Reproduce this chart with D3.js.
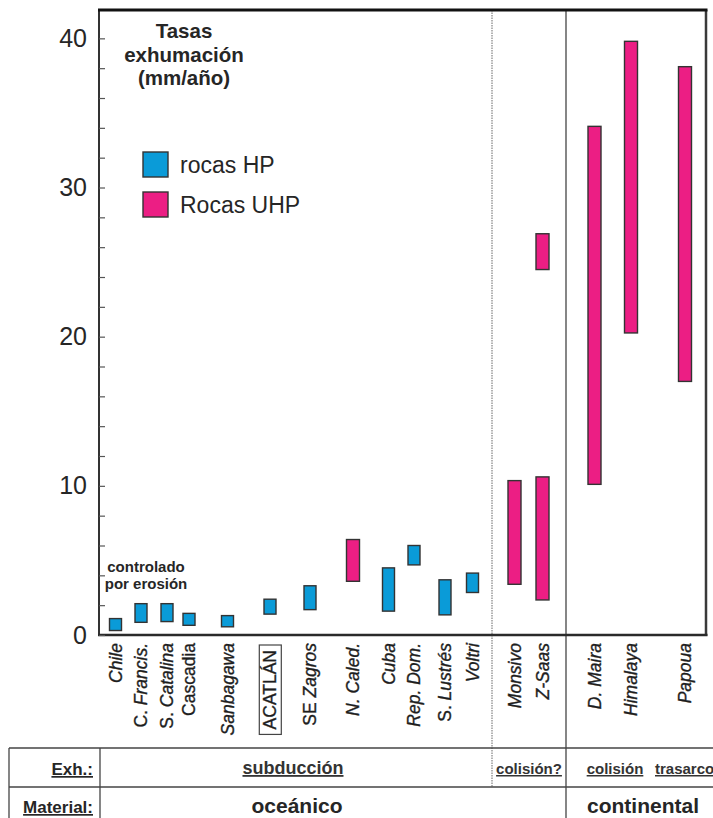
<!DOCTYPE html>
<html>
<head>
<meta charset="utf-8">
<script src="https://cdn.jsdelivr.net/npm/d3@7"></script>
<style>
  html, body { margin: 0; padding: 0; background: #fff; }
  svg { display: block; font-family: "Liberation Sans", Arial, sans-serif; }
</style>
</head>
<body>
<svg id="chart" width="713" height="818"></svg>
<script>
// Localities, in plotting order
const sites = ["Chile", "C. Francis.", "S. Catalina", "Cascadia", "Sanbagawa", "ACATLÁN",
  "SE Zagros", "N. Caled.", "Cuba", "Rep. Dom.", "S. Lustrés", "Voltri",
  "Monsivo", "Z-Saas", "D. Maira", "Himalaya", "Papoua"];

// Exhumation-rate ranges (mm/año): one entry per bar
const barSite = ["Chile", "C. Francis.", "S. Catalina", "Cascadia", "Sanbagawa", "ACATLÁN",
  "SE Zagros", "N. Caled.", "Cuba", "Rep. Dom.", "S. Lustrés", "Voltri",
  "Monsivo", "Z-Saas", "Z-Saas", "D. Maira", "Himalaya", "Papoua"];
const barType = ["HP", "HP", "HP", "HP", "HP", "HP",
  "HP", "UHP", "HP", "HP", "HP", "HP",
  "UHP", "UHP", "UHP", "UHP", "UHP", "UHP"];
const barLow  = [0.3, 0.85, 0.9, 0.65, 0.55, 1.4, 1.7, 3.6, 1.6, 4.7, 1.35, 2.85, 3.4, 2.35, 24.5, 10.1, 20.25, 17.0];
const barHigh = [1.1, 2.1, 2.1, 1.45, 1.3, 2.4, 3.3, 6.4, 4.5, 6.0, 3.7, 4.15, 10.35, 10.6, 26.9, 34.1, 39.8, 38.1];

// Y-axis ticks
const yTicks = d3.range(0, 42, 2);
const yTickLabels = [0, 10, 20, 30, 40];

// Legend entries
const legendKeys = ["HP", "UHP"];
const legendLabels = ["rocas HP", "Rocas UHP"];

// Table rows beneath the chart
const exhTexts = ["subducción", "colisión?", "colisión", "trasarco"];
const materialTexts = ["oceánico", "continental"];

// ---------------------------------------------------------------------------
const svg = d3.select("#chart");
const ink = "#262626";
const colors = d3.scaleOrdinal(legendKeys, ["#0a9bd8", "#ec1e84"]);

const frame = { left: 99, right: 706, top: 10, bottom: 635 };

const y = d3.scaleLinear().domain([0, 41.9]).range([frame.bottom, frame.top]);

// Sites are spaced by geological grouping, not evenly
const x = d3.scaleOrdinal(sites,
  [115.5, 141, 167, 189, 227.5, 270, 310, 353, 388.5, 414, 445, 472.5, 514.5, 542.5, 594.5, 631, 685]);

const bars = barSite.map((s, i) => ({ site: s, type: barType[i], lo: barLow[i], hi: barHigh[i] }));

// group separators
svg.append("line").attr("x1", 492).attr("x2", 492).attr("y1", frame.top).attr("y2", 787)
  .attr("stroke", "#9a9a9a").attr("stroke-width", 1.5).attr("stroke-dasharray", "1.5,1");
svg.append("line").attr("x1", 566).attr("x2", 566).attr("y1", frame.top).attr("y2", 818)
  .attr("stroke", "#444").attr("stroke-width", 1.3);

// frame
svg.append("line").attr("x1", frame.left).attr("x2", frame.left).attr("y1", frame.top).attr("y2", frame.bottom + 1)
  .attr("stroke", "#333").attr("stroke-width", 2);
svg.append("line").attr("x1", frame.right).attr("x2", frame.right).attr("y1", frame.top).attr("y2", frame.bottom + 1)
  .attr("stroke", "#3a3a3a").attr("stroke-width", 2.5);
svg.append("line").attr("x1", frame.left - 1).attr("x2", frame.right + 1.5).attr("y1", frame.top).attr("y2", frame.top)
  .attr("stroke", "#111").attr("stroke-width", 3);
svg.append("line").attr("x1", frame.left - 1).attr("x2", frame.right + 1.5).attr("y1", frame.bottom).attr("y2", frame.bottom)
  .attr("stroke", "#2a2a2a").attr("stroke-width", 2.5);

// y axis (ticks point inward)
const yAxis = d3.axisLeft(y)
  .tickValues(yTicks)
  .tickSize(-6)
  .tickSizeOuter(0)
  .tickPadding(12)
  .tickFormat(d => yTickLabels.includes(d) ? d : "");
const gy = svg.append("g").attr("transform", `translate(${frame.left},0)`).call(yAxis);
gy.select(".domain").remove();
gy.selectAll(".tick line").attr("stroke", "#555").attr("stroke-width", 1.2);
gy.selectAll(".tick text").attr("font-size", 25).attr("fill", ink)
  .attr("font-family", "Liberation Sans, Arial, sans-serif");

// range bars
svg.append("g").selectAll("rect").data(bars).join("rect")
  .attr("x", d => x(d.site) - (d.type === "HP" ? 6 : 6.5))
  .attr("width", d => d.type === "HP" ? 12 : 13)
  .attr("y", d => y(d.hi))
  .attr("height", d => y(d.lo) - y(d.hi))
  .attr("fill", d => colors(d.type))
  .attr("stroke", "#333")
  .attr("stroke-width", 1.4);

// title
const title = svg.append("text").attr("x", 184).attr("text-anchor", "middle")
  .attr("font-size", 20.5).attr("font-weight", "bold").attr("fill", ink);
["Tasas", "exhumación", "(mm/año)"].forEach((t, i) =>
  title.append("tspan").attr("x", 184).attr("y", 38 + i * 23.5).text(t));

// legend
const lg = svg.append("g").selectAll("g").data(legendKeys).join("g")
  .attr("transform", (d, i) => `translate(143,${152 + i * 40})`);
lg.append("rect").attr("width", 25).attr("height", 25)
  .attr("fill", d => colors(d)).attr("stroke", "#333").attr("stroke-width", 1.4);
lg.append("text").attr("x", 37).attr("y", 21).attr("font-size", 23).attr("fill", ink)
  .text((d, i) => legendLabels[i]);

// annotation
const note = svg.append("text").attr("text-anchor", "middle").attr("font-size", 15)
  .attr("font-weight", "bold").attr("fill", ink);
note.append("tspan").attr("x", 146).attr("y", 572).text("controlado");
note.append("tspan").attr("x", 146).attr("y", 589).text("por erosión");

// site labels: [text, italic] pieces
const labelParts = {
  "Chile": [["Chile", true]],
  "C. Francis.": [["C. ", false], ["Francis.", true]],
  "S. Catalina": [["S. ", false], ["Catalina", true]],
  "Cascadia": [["Cascadia", false]],
  "Sanbagawa": [["Sanbagawa", true]],
  "ACATLÁN": [["ACATLÁN", false]],
  "SE Zagros": [["SE ", false], ["Zagros", true]],
  "N. Caled.": [["N. Caled.", true]],
  "Cuba": [["Cuba", true]],
  "Rep. Dom.": [["Rep. Dom.", true]],
  "S. Lustrés": [["S. ", false], ["Lustrés", true]],
  "Voltri": [["Voltri", true]],
  "Monsivo": [["Monsivo", true]],
  "Z-Saas": [["Z-Saas", true]],
  "D. Maira": [["D. Maira", true]],
  "Himalaya": [["Himalaya", true]],
  "Papoua": [["Papoua", true]]
};

const labels = svg.append("g").selectAll("g").data(sites).join("g")
  .attr("transform", d => `translate(${x(d)},${d === "ACATLÁN" ? 650 : 643}) rotate(-90)`);
labels.append("text")
  .attr("text-anchor", "end")
  .attr("dy", "0.36em")
  .attr("font-size", 17.5)
  .attr("fill", "#1e1e1e")
  .attr("stroke", "#1e1e1e")
  .attr("stroke-width", 0.35)
  .each(function (d) {
    const t = d3.select(this);
    labelParts[d].forEach(([s, it]) => t.append("tspan")
      .attr("font-style", it ? "italic" : "normal").text(s));
  });
// boxed locality
labels.filter(d => d === "ACATLÁN").each(function () {
  const g = d3.select(this);
  const bb = g.select("text").node().getBBox();
  g.insert("rect", "text")
    .attr("x", bb.x - 5).attr("y", bb.y - 1)
    .attr("width", bb.width + 10).attr("height", bb.height + 2)
    .attr("fill", "none").attr("stroke", "#444").attr("stroke-width", 1.2);
});

// table grid
const grid = svg.append("g").attr("stroke", "#444").attr("stroke-width", 1.3);
grid.append("line").attr("x1", 9).attr("x2", 713).attr("y1", 748).attr("y2", 748);
grid.append("line").attr("x1", 9).attr("x2", 713).attr("y1", 787).attr("y2", 787);
grid.append("line").attr("x1", 9).attr("x2", 9).attr("y1", 748).attr("y2", 818);
grid.append("line").attr("x1", 100).attr("x2", 100).attr("y1", 748).attr("y2", 818);

// row headers
svg.append("text").attr("x", 93).attr("y", 775).attr("text-anchor", "end")
  .attr("font-size", 17).attr("font-weight", "bold").attr("fill", ink)
  .attr("text-decoration", "underline").text("Exh.:");
svg.append("text").attr("x", 93).attr("y", 813).attr("text-anchor", "end")
  .attr("font-size", 17).attr("font-weight", "bold").attr("fill", ink)
  .attr("text-decoration", "underline").text("Material:");

// exhumation row
const exhX = [293, 529, 615, 655];
const exhSize = [18, 15, 15, 15];
const exhAnchor = ["middle", "middle", "middle", "start"];
exhTexts.forEach((t, i) => {
  svg.append("text").attr("x", exhX[i]).attr("y", 774)
    .attr("text-anchor", exhAnchor[i]).attr("font-size", exhSize[i])
    .attr("font-weight", "bold").attr("fill", "#333")
    .attr("text-decoration", "underline").text(t);
});

// material row
const matX = [297, 643];
materialTexts.forEach((t, i) => {
  svg.append("text").attr("x", matX[i]).attr("y", 813)
    .attr("text-anchor", "middle").attr("font-size", 21)
    .attr("font-weight", "bold").attr("fill", ink).text(t);
});
</script>
</body>
</html>
